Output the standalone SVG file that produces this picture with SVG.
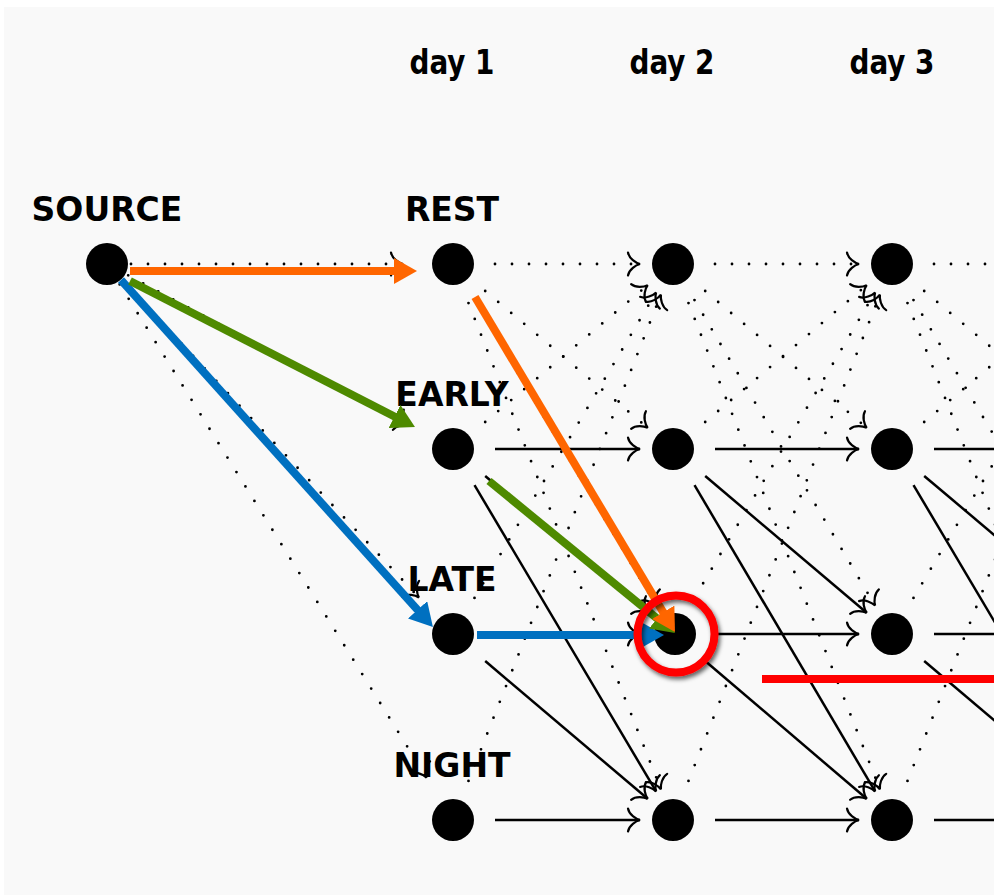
<svg xmlns="http://www.w3.org/2000/svg" width="994" height="895" viewBox="0 0 994 895">
  <style>
    .node { fill: #000; }
    .lbl { font-family: "DejaVu Sans", "Liberation Sans", sans-serif; font-weight: bold; font-size: 33px; fill: #000; text-anchor: middle; }
    .day { font-family: "DejaVu Sans Condensed", "DejaVu Sans", sans-serif; font-stretch: condensed; font-weight: bold; font-size: 34px; fill: #000; text-anchor: middle; }
    .dot { fill: none; stroke: #000; stroke-width: 2.8; stroke-linecap: round; stroke-dasharray: 0 17; marker-end: url(#to); }
    .sol { fill: none; stroke: #000; stroke-width: 2.5; marker-end: url(#to); }
    .path { fill: none; stroke-width: 8; stroke-linecap: butt; }
  </style>
  <defs>
    <!-- curved open arrow tip used by the black connectors -->
    <marker id="to" markerUnits="userSpaceOnUse" viewBox="-15 -15 30 30" markerWidth="30" markerHeight="30" refX="0" refY="0" orient="auto">
      <path d="M-12,-11.5 C-11,-5.5 -4,-1 0,0 C-4,1 -11,5.5 -12,11.5" fill="none" stroke="#000" stroke-width="2.2" stroke-linecap="round"/>
    </marker>
    <!-- solid triangular heads for the highlighted paths -->
    <marker id="hd-or" markerUnits="userSpaceOnUse" viewBox="0 -13 23 26" markerWidth="23" markerHeight="26" refX="1" refY="0" orient="auto">
      <path d="M0,-13 L23,0 L0,13 z" fill="#ff6600"/>
    </marker>
    <marker id="hd-gr" markerUnits="userSpaceOnUse" viewBox="0 -13 23 26" markerWidth="23" markerHeight="26" refX="1" refY="0" orient="auto">
      <path d="M0,-13 L23,0 L0,13 z" fill="#4e8a00"/>
    </marker>
    <marker id="hd-bl" markerUnits="userSpaceOnUse" viewBox="0 -13 23 26" markerWidth="23" markerHeight="26" refX="1" refY="0" orient="auto">
      <path d="M0,-13 L23,0 L0,13 z" fill="#0070c0"/>
    </marker>
    <filter id="shadow" x="-30%" y="-30%" width="160%" height="160%">
      <feDropShadow dx="2" dy="3" stdDeviation="2.2" flood-color="#000" flood-opacity="0.6"/>
    </filter>
  </defs>

  <!-- page -->
  <rect x="0" y="0" width="994" height="895" fill="#ffffff"/>
  <rect x="4" y="7" width="990" height="888" fill="#f9f9f9"/>

  <!-- day headers -->
  <g id="days">
    <text class="day" x="452" y="74" textLength="85" lengthAdjust="spacingAndGlyphs">day 1</text>
    <text class="day" x="672" y="74" textLength="85" lengthAdjust="spacingAndGlyphs">day 2</text>
    <text class="day" x="892" y="74" textLength="85" lengthAdjust="spacingAndGlyphs">day 3</text>
  </g>

  <g id="connectors">
    <!-- source to day 1 (rest moves dotted) -->
    <path class="dot" d="M131,264 L403,264"/>
    <path class="dot" d="M128.2,275.3 L408.9,425.4"/>
    <path class="dot" d="M123.4,281.5 L418.9,597.5"/>
    <path class="dot" d="M119.7,284.4 L426.6,777.6"/>

    <!-- day 1 to day 2 -->
    <path class="dot" d="M495,264 L640,264"/>
    <path class="dot" d="M485.2,291 L647.7,427.8"/>
    <path class="dot" d="M474.5,300.1 L656.1,605.6"/>
    <path class="dot" d="M468.5,303.1 L660.9,789.3"/>
    <path class="dot" d="M485.2,422 L647.7,285.2"/>
    <path class="dot" d="M474.5,597.9 L656.1,292.4"/>
    <path class="dot" d="M468.5,780.9 L660.9,294.7"/>
    <path class="sol" d="M495,449 L640,449"/>
    <path class="sol" d="M485.2,476 L647.7,612.8"/>
    <path class="sol" d="M474.5,485.1 L656.1,791.4"/>
    <path class="sol" d="M495,634 L640,634"/>
    <path class="sol" d="M485.2,661 L647.7,798.8"/>
    <path class="sol" d="M495,820 L640,820"/>

    <!-- day 2 to day 3 -->
    <path class="dot" d="M715,264 L859,264"/>
    <path class="dot" d="M705.2,291 L866.7,427.8"/>
    <path class="dot" d="M694.5,300.1 L875.1,605.6"/>
    <path class="dot" d="M688.5,303.1 L879.9,789.3"/>
    <path class="dot" d="M705.2,422 L866.7,285.2"/>
    <path class="dot" d="M694.5,597.9 L875.1,292.4"/>
    <path class="dot" d="M688.5,780.9 L879.9,294.7"/>
    <path class="sol" d="M715,449 L859,449"/>
    <path class="sol" d="M705.2,476 L866.7,612.8"/>
    <path class="sol" d="M694.5,485.1 L875.1,791.4"/>
    <path class="sol" d="M715,634 L859,634"/>
    <path class="sol" d="M705.2,661 L866.7,798.8"/>
    <path class="sol" d="M715,820 L859,820"/>

    <!-- day 3 onward -->
    <path class="dot" d="M934,264 L1079,264"/>
    <path class="dot" d="M924.2,291 L1086.7,427.8"/>
    <path class="dot" d="M913.5,300.1 L1095.1,605.6"/>
    <path class="dot" d="M907.5,303.1 L1099.9,789.3"/>
    <path class="dot" d="M924.2,422 L1086.7,285.2"/>
    <path class="dot" d="M913.5,597.9 L1095.1,292.4"/>
    <path class="dot" d="M907.5,780.9 L1099.9,294.7"/>
    <path class="sol" d="M934,449 L1079,449"/>
    <path class="sol" d="M924.2,476 L1086.7,612.8"/>
    <path class="sol" d="M913.5,485.1 L1095.1,791.4"/>
    <path class="sol" d="M934,634 L1079,634"/>
    <path class="sol" d="M924.2,661 L1086.7,798.8"/>
    <path class="sol" d="M934,820 L1079,820"/>
  </g>

  <!-- nodes -->
  <g id="source"><circle class="node" cx="107" cy="264" r="21"/><text class="lbl" x="107" y="221">SOURCE</text></g>
  <g id="rest-1"><circle class="node" cx="453" cy="264" r="21"/><text class="lbl" x="452" y="221">REST</text></g>
  <g id="early-1"><circle class="node" cx="453" cy="449" r="21"/><text class="lbl" x="452" y="406">EARLY</text></g>
  <g id="late-1"><circle class="node" cx="453" cy="634" r="21"/><text class="lbl" x="452" y="591">LATE</text></g>
  <g id="night-1"><circle class="node" cx="453" cy="820" r="21"/><text class="lbl" x="452" y="777">NIGHT</text></g>
  <g id="rest-2"><circle class="node" cx="673" cy="264" r="21"/></g>
  <g id="early-2"><circle class="node" cx="673" cy="449" r="21"/></g>
  <g id="late-2"><circle class="node" cx="675" cy="634" r="21"/></g>
  <g id="night-2"><circle class="node" cx="673" cy="820" r="21"/></g>
  <g id="rest-3"><circle class="node" cx="892" cy="264" r="21"/></g>
  <g id="early-3"><circle class="node" cx="892" cy="449" r="21"/></g>
  <g id="late-3"><circle class="node" cx="892" cy="634" r="21"/></g>
  <g id="night-3"><circle class="node" cx="892" cy="820" r="21"/></g>

  <!-- highlighted paths into late on day 2 -->
  <g id="highlights">
    <path class="path" stroke="#0070c0" d="M121,280 L418.2,610.6" marker-end="url(#hd-bl)"/>
    <path class="path" stroke="#0070c0" d="M477,635 L642,635" marker-end="url(#hd-bl)"/>
    <path class="path" stroke="#4e8a00" d="M130,281 L395.4,417" marker-end="url(#hd-gr)"/>
    <path class="path" stroke="#4e8a00" d="M489,481 L657.9,619.1" marker-end="url(#hd-gr)"/>
    <path class="path" stroke="#ff6600" d="M130,271 L395,271" marker-end="url(#hd-or)"/>
    <path class="path" stroke="#ff6600" d="M475,297 L663.7,613.1" marker-end="url(#hd-or)"/>
  </g>

  <!-- focus mark -->
  <g id="focus">
    <circle cx="676" cy="634" r="38.5" fill="none" stroke="#ff0000" stroke-width="8" filter="url(#shadow)"/>
    <line x1="762" y1="679" x2="994" y2="679" stroke="#ff0000" stroke-width="8"/>
  </g>
</svg>
